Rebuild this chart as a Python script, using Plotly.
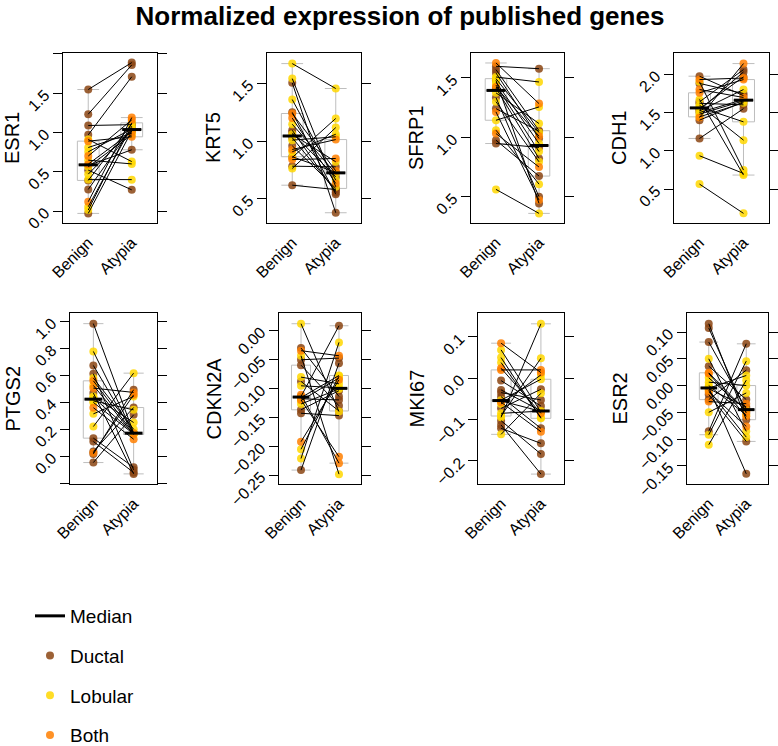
import numpy as np
import plotly.graph_objects as go

# ---- data ----
GENES = ["ESR1", "KRT5", "SFRP1", "CDH1", "PTGS2", "CDKN2A", "MKI67", "ESR2"]
GROUPS = ["Benign", "Atypia"]
# one entry per patient; same patients in every panel
TYPES = ["Ductal"] * 9 + ["Lobular"] * 9 + ["Both"] * 4

ESR1_BENIGN = [1.547, 1.233, 0.97, 1.089, 0.521, 0.58, 0.275, 0.39, -0.03,
               0.403, 0.911, 0.648, 0.013, 0.055, 0.47, 0.564, 0.754, 0.809,
               0.119, 0.597, 0.70, 0.89]
ESR1_ATYPIA = [1.89, 1.86, 1.71, 1.10, 0.27, 0.78, 1.06, 1.11, 1.02,
               0.40, 0.63, 0.60, 1.123, 1.08, 1.03, 0.97, 1.045, 0.99,
               1.19, 1.01, 1.16, 0.945]

KRT5_BENIGN = [1.506, 1.25, 1.095, 1.072, 1.03, 0.96, 0.865, 0.783, 0.618,
               1.673, 1.543, 1.361, 1.147, 1.06, 1.009, 0.908, 0.858, 0.763,
               1.24, 1.20, 0.928, 0.84]
KRT5_ATYPIA = [0.379, 0.540, 0.555, 0.69, 0.569, 0.59, 0.73, 0.777, 0.58,
               1.457, 0.604, 0.662, 0.72, 0.821, 1.038, 1.06, 1.197, 1.118,
               0.743, 0.633, 1.014, 0.850]

SFRP1_BENIGN = [1.598, 1.57, 1.542, 1.48, 1.415, 1.335, 1.242, 0.976, 0.948,
                0.562, 1.060, 1.144, 1.30, 1.375, 1.44, 1.466, 1.494, 1.508,
                1.626, 1.424, 1.214, 1.032]
SFRP1_ATYPIA = [1.578, 1.056, 0.990, 0.444, 0.822, 0.500, 1.050, 0.674, 0.915,
                0.360, 0.606, 1.256, 0.794, 1.116, 0.88, 0.948, 1.04, 1.466,
                1.284, 1.01, 0.472, 0.75]

CDH1_BENIGN = [1.974, 1.88, 1.639, 1.62, 1.55, 1.53, 1.50, 1.40, 1.161,
               0.565, 0.935, 1.90, 1.67, 1.596, 1.57, 1.52, 1.478, 1.443,
               1.435, 1.757, 1.80, 1.93]
CDH1_ATYPIA = [1.72, 1.748, 2.06, 1.60, 1.965, 2.03, 1.67, 1.64, 1.55,
               0.183, 0.704, 0.748, 0.683, 1.139, 1.378, 1.80, 1.652, 1.626,
               2.139, 1.93, 1.696, 1.95]

PTGS2_BENIGN = [0.983, 0.673, 0.611, 0.468, 0.134, 0.109, 0.035, 0.017, -0.047,
                0.220, 0.314, 0.399, 0.41, 0.436, 0.443, 0.525, 0.58, 0.777,
                0.025, 0.36, 0.505, 0.559]
PTGS2_ATYPIA = [0.172, 0.168, -0.101, -0.131, -0.082, -0.121, 0.361, 0.493, 0.307,
                0.616, 0.443, 0.165, 0.344, 0.17, 0.250, 0.161, 0.20, 0.169,
                0.455, 0.126, 0.473, 0.17]

CDKN2A_BENIGN = [-0.241, -0.143, -0.137, -0.118, -0.114, -0.0881, -0.060, -0.0507, -0.0305,
                 0.0115, -0.0438, -0.0806, -0.0956, -0.116, -0.121, -0.127, -0.205, -0.221,
                 -0.192, -0.120, -0.111, -0.035]
CDKN2A_ATYPIA = [-0.0565, -0.147, -0.104, -0.120, 0.008, -0.139, -0.130, -0.0478, -0.114,
                 -0.140, -0.248, -0.0922, -0.099, -0.0778, -0.0820, -0.101, -0.0790, -0.0207,
                 -0.0853, -0.218, -0.229, -0.0438]

MKI67_BENIGN = [-0.1213, -0.1132, -0.1027, -0.0728, -0.055, -0.0445, -0.0348, -0.0283, -0.0057,
                -0.1358, -0.0946, -0.0914, -0.0849, -0.0622, -0.053, 0.038, 0.050, 0.0687,
                0.0849, 0.0243, 0.0202, -0.058]
MKI67_ATYPIA = [-0.1576, -0.232, -0.1835, -0.0267, -0.080, -0.1213, -0.0525, -0.079, -0.0671,
                -0.0364, 0.1318, 0.0485, -0.0795, 0.0081, -0.0024, -0.095, -0.097, -0.082,
                0.0137, -0.0849, 0.0202, -0.1293]

ESR2_BENIGN = [0.1156, 0.1075, 0.0813, 0.0363, -0.004, -0.006, -0.0169, -0.0263, -0.0856,
               -0.1106, -0.0919, -0.050, -0.0088, -0.005, 0.0, 0.0063, 0.0144, 0.050,
               -0.030, -0.012, 0.0225, 0.0238]
ESR2_ATYPIA = [-0.0638, -0.0513, -0.044, -0.0263, -0.165, -0.040, -0.1044, 0.0288, 0.078,
               0.010, 0.0456, -0.0138, -0.0963, 0.0188, -0.055, 0.0, -0.046, -0.0856,
               -0.0338, -0.0763, -0.0575, -0.048]

# y ticks and their labels per gene ("" = tick without label)
ESR1_TICKS, ESR1_LABELS = [0, 0.5, 1, 1.5, 2], ["0.0", "0.5", "1.0", "1.5", ""]
KRT5_TICKS, KRT5_LABELS = [0.5, 1, 1.5], ["0.5", "1.0", "1.5"]
SFRP1_TICKS, SFRP1_LABELS = [0.5, 1, 1.5], ["0.5", "1.0", "1.5"]
CDH1_TICKS, CDH1_LABELS = [0.5, 1, 1.5, 2], ["0.5", "1.0", "1.5", "2.0"]
PTGS2_TICKS = [-0.2, 0, 0.2, 0.4, 0.6, 0.8, 1.0]
PTGS2_LABELS = ["", "0.0", "0.2", "0.4", "0.6", "0.8", "1.0"]
CDKN2A_TICKS = [-0.25, -0.2, -0.15, -0.1, -0.05, 0]
CDKN2A_LABELS = ["−0.25", "−0.20", "−0.15", "−0.10", "−0.05", "0.00"]
MKI67_TICKS, MKI67_LABELS = [-0.2, -0.1, 0, 0.1], ["−0.2", "−0.1", "0.0", "0.1"]
ESR2_TICKS = [-0.15, -0.1, -0.05, 0, 0.05, 0.1]
ESR2_LABELS = ["−0.15", "−0.10", "−0.05", "0.00", "0.05", "0.10"]

PANELS = [
    (ESR1_BENIGN, ESR1_ATYPIA, ESR1_TICKS, ESR1_LABELS, [-0.152, 2.012]),
    (KRT5_BENIGN, KRT5_ATYPIA, KRT5_TICKS, KRT5_LABELS, [0.29, 1.765]),
    (SFRP1_BENIGN, SFRP1_ATYPIA, SFRP1_TICKS, SFRP1_LABELS, [0.279, 1.71]),
    (CDH1_BENIGN, CDH1_ATYPIA, CDH1_TICKS, CDH1_LABELS, [0.057, 2.277]),
    (PTGS2_BENIGN, PTGS2_ATYPIA, PTGS2_TICKS, PTGS2_LABELS, [-0.206, 1.062]),
    (CDKN2A_BENIGN, CDKN2A_ATYPIA, CDKN2A_TICKS, CDKN2A_LABELS, [-0.265, 0.030]),
    (MKI67_BENIGN, MKI67_ATYPIA, MKI67_TICKS, MKI67_LABELS, [-0.256, 0.158]),
    (ESR2_BENIGN, ESR2_ATYPIA, ESR2_TICKS, ESR2_LABELS, [-0.184, 0.1356]),
]

COLORS = {"Ductal": "#8B4513", "Lobular": "#FFD700", "Both": "#FF7F00"}
FONT = "Liberation Sans, Arial, Helvetica, sans-serif"

# ---- layout geometry (pixels) ----
W, H = 778, 746
PANEL_X = [(63, 157), (267, 361), (471, 564), (674, 769),
           (70, 157), (279, 361), (478, 564), (687, 768)]
ROW_Y = [(53, 223), (313, 484)]
YLABEL_X = [12, 213, 416, 619]

fig = go.Figure()

for i, gene in enumerate(GENES):
    benign, atypia, ticks, labels, yrange = PANELS[i]
    n = i + 1
    xa = "x" if n == 1 else f"x{n}"
    ya = "y" if n == 1 else f"y{n}"
    first = i == 0

    # gray boxplots
    for pos, vals in ((1, benign), (2, atypia)):
        fig.add_trace(go.Box(
            x=[pos] * len(vals), y=vals, width=0.5, whiskerwidth=1,
            boxpoints="outliers", quartilemethod="exclusive",
            marker=dict(opacity=0, size=1),
            line=dict(color="#BEBEBE", width=1), fillcolor="rgba(0,0,0,0)",
            showlegend=False, hoverinfo="skip", xaxis=xa, yaxis=ya,
        ))

    # points coloured by lesion type
    for rank, t in enumerate(["Ductal", "Lobular", "Both"]):
        idx = [k for k, tt in enumerate(TYPES) if tt == t]
        fig.add_trace(go.Scatter(
            x=[1] * len(idx) + [2] * len(idx),
            y=[benign[k] for k in idx] + [atypia[k] for k in idx],
            mode="markers", name=t, legendgroup=t, legendrank=rank + 2,
            showlegend=first,
            marker=dict(color=COLORS[t], size=8, opacity=0.85, line=dict(width=0)),
            xaxis=xa, yaxis=ya,
        ))

    # paired lines
    lx, ly = [], []
    for b, a in zip(benign, atypia):
        lx += [1, 2, None]
        ly += [b, a, None]
    fig.add_trace(go.Scatter(
        x=lx, y=ly, mode="lines", line=dict(color="black", width=1),
        showlegend=False, hoverinfo="skip", xaxis=xa, yaxis=ya,
    ))

    # medians
    mb, ma = float(np.median(benign)), float(np.median(atypia))
    fig.add_trace(go.Scatter(
        x=[0.78, 1.22, None, 1.78, 2.22], y=[mb, mb, None, ma, ma],
        mode="lines", line=dict(color="black", width=3),
        name="Median", legendgroup="Median", legendrank=1, showlegend=first,
        xaxis=xa, yaxis=ya,
    ))

    x0, x1 = PANEL_X[i]
    y0, y1 = ROW_Y[i // 4]
    fig.update_layout(**{
        ("xaxis" if n == 1 else f"xaxis{n}"): dict(
            domain=[x0 / W, x1 / W], range=[0.42, 2.58], anchor=ya,
            tickmode="array", tickvals=[1, 2], ticktext=GROUPS, tickangle=-45,
            ticks="", ticklabelstandoff=3,
            showline=True, mirror=True, linecolor="black", linewidth=1,
            showgrid=False, zeroline=False, automargin=False,
            tickfont=dict(size=16, color="black"),
        ),
        ("yaxis" if n == 1 else f"yaxis{n}"): dict(
            domain=[1 - y1 / H, 1 - y0 / H], range=yrange, anchor=xa,
            tickmode="array", tickvals=ticks, ticktext=labels, tickangle=-45,
            ticks="outside", ticklen=9, tickwidth=1, tickcolor="black",
            ticklabelstandoff=5,
            showline=True, mirror="ticks", linecolor="black", linewidth=1,
            showgrid=False, zeroline=False, automargin=False,
            tickfont=dict(size=16, color="black"),
        ),
    })
    fig.add_annotation(
        text=gene, xref="paper", yref="paper", showarrow=False,
        x=YLABEL_X[i % 4] / W, y=1 - (y0 + y1) / 2 / H,
        xanchor="center", yanchor="middle", textangle=-90,
        font=dict(size=20, color="black"),
    )

fig.update_layout(
    width=W, height=H, template="none",
    # no margin expansion: the legend runs down to the bottom edge
    margin=dict(l=0, r=0, t=0, b=0, autoexpand=False), autosize=False,
    paper_bgcolor="white", plot_bgcolor="white",
    font=dict(family=FONT, color="black"),
    title=dict(text="<b>Normalized expression of published genes</b>",
               x=400 / W, xanchor="center", y=1 - 16 / H, yanchor="middle",
               font=dict(size=26, color="black")),
    boxmode="overlay",
    legend=dict(x=30 / W, y=1 - 597 / H, xanchor="left", yanchor="top",
                traceorder="grouped", tracegroupgap=12,
                font=dict(size=19, color="black"), bgcolor="rgba(0,0,0,0)",
                itemsizing="trace"),
)

# drop the browser's default page margin so the figure sits at (0, 0)
fig.write_html("out.html", config={"displayModeBar": False},
               post_script="document.body.style.margin = '0px';")
